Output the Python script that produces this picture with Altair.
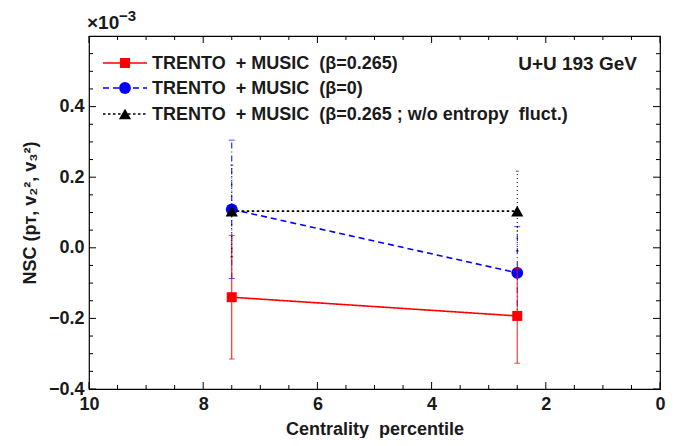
import altair as alt
import pandas as pd

# ---- data (NSC values in units of 1e-3) ----
centrality = [7.5, 2.5]
nsc_beta0265 = [-0.140, -0.193]
err_beta0265 = [0.175, 0.134]
nsc_beta0 = [0.109, -0.071]
err_beta0 = [0.196, 0.131]
nsc_noflu = [0.104, 0.104]
err_noflu = [0.130, 0.113]

NB = "\u00a0"
legend_labels = [
    f"TRENTO{NB}{NB}+ MUSIC{NB}{NB}(β=0.265)",
    f"TRENTO{NB}{NB}+ MUSIC{NB}{NB}(β=0)",
    f"TRENTO{NB}{NB}+ MUSIC{NB}{NB}(β=0.265 ; w/o entropy{NB}{NB}fluct.)",
]
x_title = f"Centrality{NB}{NB}percentile"
y_title = "NSC (pᴛ, v₂², v₃²)"
x_ticks = [10, 8, 6, 4, 2, 0]
x_minor = [9.5, 9, 8.5, 7.5, 7, 6.5, 5.5, 5, 4.5, 3.5, 3, 2.5, 1.5, 1, 0.5]
y_ticks = [-0.4, -0.2, 0.0, 0.2, 0.4]
y_minor = [-0.35, -0.3, -0.25, -0.15, -0.1, -0.05, 0.05, 0.1, 0.15, 0.25, 0.3, 0.35, 0.45, 0.5, 0.55]

W, H = 571, 353
FONT = "Liberation Sans"
TXT = "#1a1a1a"

styles = {
    "beta0265": dict(color="#ff0000", dash=[1, 0], shape="square", size=100, ebdash=[1, 0], cap=6),
    "beta0": dict(color="#0000ff", dash=[6, 4], shape="circle", size=140, ebdash=[6, 3, 1, 3], cap=6),
    "noflu": dict(color="#000000", dash=[2.5, 2.5], shape="triangle-up", size=150, ebdash=[1, 3], cap=3),
}
values = {"beta0265": (nsc_beta0265, err_beta0265),
          "beta0": (nsc_beta0, err_beta0),
          "noflu": (nsc_noflu, err_noflu)}

xs = alt.Scale(domain=[0, 10], reverse=True)
ys = alt.Scale(domain=[-0.4, 0.6])

layers = []

# zero line
zero = pd.DataFrame({"y": [0.0]})
layers.append(alt.Chart(zero).mark_rule(color="black", strokeWidth=1).encode(
    y=alt.Y("y:Q", scale=ys)))

order = ["beta0", "beta0265", "noflu"]
for s in order:
    st = styles[s]
    v, e = values[s]
    df = pd.DataFrame({"c": centrality, "v": v, "e": e})
    df["lo"] = df["v"] - df["e"]
    df["hi"] = df["v"] + df["e"]
    base = alt.Chart(df)
    layers.append(base.mark_rule(color=st["color"], strokeWidth=1, strokeDash=st["ebdash"]).encode(
        x=alt.X("c:Q", scale=xs), y=alt.Y("lo:Q", scale=ys), y2="hi:Q"))
    for col in ["lo", "hi"]:
        layers.append(base.mark_tick(color=st["color"], thickness=1, size=st["cap"], orient="horizontal").encode(
            x=alt.X("c:Q", scale=xs), y=alt.Y(f"{col}:Q", scale=ys)))
    layers.append(base.mark_line(color=st["color"], strokeWidth=1.6, strokeDash=st["dash"]).encode(
        x=alt.X("c:Q", scale=xs), y=alt.Y("v:Q", scale=ys)))
    layers.append(base.mark_point(color=st["color"], filled=True, opacity=1, shape=st["shape"], size=st["size"]).encode(
        x=alt.X("c:Q", scale=xs), y=alt.Y("v:Q", scale=ys)))

# inward ticks (all four sides)
for vals, L in [(x_ticks, 7), (x_minor, 4)]:
    d = pd.DataFrame({"t": vals})
    layers.append(alt.Chart(d).mark_rule(color="black", strokeWidth=1).encode(
        x=alt.X("t:Q", scale=xs), y=alt.value(H), y2=alt.value(H - L)))
    layers.append(alt.Chart(d).mark_rule(color="black", strokeWidth=1).encode(
        x=alt.X("t:Q", scale=xs), y=alt.value(0), y2=alt.value(L)))
for vals, L in [(y_ticks, 7), (y_minor, 4)]:
    d = pd.DataFrame({"t": vals})
    layers.append(alt.Chart(d).mark_rule(color="black", strokeWidth=1).encode(
        y=alt.Y("t:Q", scale=ys), x=alt.value(0), x2=alt.value(L)))
    layers.append(alt.Chart(d).mark_rule(color="black", strokeWidth=1).encode(
        y=alt.Y("t:Q", scale=ys), x=alt.value(W), x2=alt.value(W - L)))

# legend (manual)
leg_y = [27, 52, 78]
for i, s in enumerate(["beta0265", "beta0", "noflu"]):
    st = styles[s]
    d = pd.DataFrame({"label": [legend_labels[i]]})
    b = alt.Chart(d)
    layers.append(b.mark_rule(color=st["color"], strokeWidth=1.6, strokeDash=st["dash"]).encode(
        x=alt.value(14), x2=alt.value(58), y=alt.value(leg_y[i])))
    layers.append(b.mark_point(color=st["color"], filled=True, opacity=1, shape=st["shape"], size=st["size"]).encode(
        x=alt.value(36), y=alt.value(leg_y[i])))
    layers.append(b.mark_text(align="left", baseline="middle", font=FONT, fontSize=18, fontWeight="bold",
                              color=TXT).encode(
        x=alt.value(63), y=alt.value(leg_y[i] + 1), text="label:N"))

ann = pd.DataFrame({"t": ["U+U 193 GeV"]})
layers.append(alt.Chart(ann).mark_text(align="right", baseline="middle", font=FONT, fontSize=19,
                                       fontWeight="bold", color=TXT).encode(
    x=alt.value(548), y=alt.value(28), text="t:N"))
mult = pd.DataFrame({"t": ["×10"]})
layers.append(alt.Chart(mult).mark_text(align="left", baseline="middle", font=FONT, fontSize=19,
                                        fontWeight="bold", color=TXT).encode(
    x=alt.value(-2), y=alt.value(-13), text="t:N"))
expo = pd.DataFrame({"t": ["−3"]})
layers.append(alt.Chart(expo).mark_text(align="left", baseline="middle", font=FONT, fontSize=15,
                                        fontWeight="bold", color=TXT).encode(
    x=alt.value(30), y=alt.value(-20), text="t:N"))

chart = alt.layer(*layers).encode(
    x=alt.X("c:Q", scale=xs, title=x_title,
            axis=alt.Axis(values=x_ticks, format="d", ticks=False, domain=False, grid=False,
                          labelFontSize=18, labelFontWeight="bold", labelFont=FONT, labelColor=TXT,
                          labelPadding=6, titleFontSize=18, titleFont=FONT, titleFontWeight="bold",
                          titleColor=TXT, titlePadding=7)),
    y=alt.Y("v:Q", scale=ys, title=y_title,
            axis=alt.Axis(values=y_ticks, format=".1f", ticks=False, domain=False, grid=False,
                          labelFontSize=18, labelFontWeight="bold", labelFont=FONT, labelColor=TXT,
                          labelPadding=5, titleFontSize=18, titleFont=FONT, titleFontWeight="bold",
                          titleColor=TXT, titlePadding=9)),
).properties(
    width=W, height=H,
    autosize=alt.AutoSizeParams(type="none"),
    padding={"left": 81, "top": 28, "right": 26, "bottom": 49},
).configure_view(stroke="black", strokeWidth=1.2).configure_axis(labelFlush=False)

chart.save("out.html", embed_options={"renderer": "svg", "actions": False})
